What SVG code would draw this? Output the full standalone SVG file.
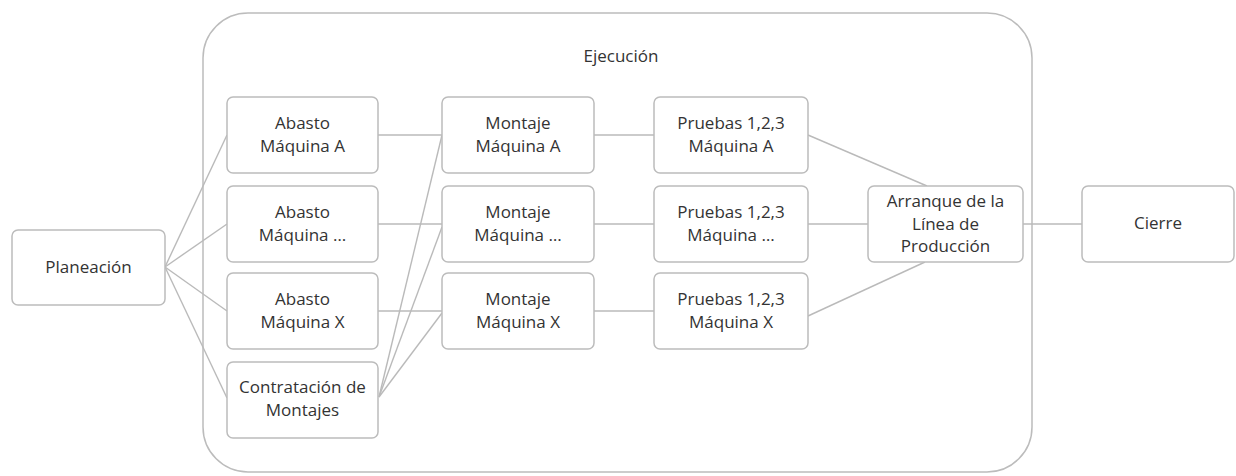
<svg xmlns="http://www.w3.org/2000/svg" width="1236" height="476" viewBox="0 0 1236 476">
<style>
.box{fill:#ffffff;stroke:#bcbcbc;stroke-width:1.5}
.cont{fill:none;stroke:#bcbcbc;stroke-width:1.5}
.ln{stroke:#bababa;stroke-width:1.4;fill:none}
text{font-family:"Open Sans","Liberation Sans",sans-serif;font-size:17px;fill:#333333;text-anchor:middle}
</style>
<rect width="1236" height="476" fill="#ffffff"/>
<g id="ejecucion">
<rect class="cont" x="203" y="13" width="829" height="459" rx="45"/>
<text x="621" y="62">Ejecución</text>
</g>
<g id="connectors">
<line class="ln" x1="165" y1="267" x2="227" y2="135"/>
<line class="ln" x1="165" y1="267" x2="227" y2="224"/>
<line class="ln" x1="165" y1="267" x2="227" y2="311"/>
<line class="ln" x1="165" y1="267" x2="227" y2="398"/>
<line class="ln" x1="378" y1="135" x2="442" y2="135"/>
<line class="ln" x1="378" y1="224" x2="442" y2="224"/>
<line class="ln" x1="378" y1="311" x2="442" y2="311"/>
<line class="ln" x1="379" y1="397" x2="442" y2="135"/>
<line class="ln" x1="379" y1="397" x2="442" y2="227"/>
<line class="ln" x1="379" y1="397" x2="442" y2="313"/>
<line class="ln" x1="594" y1="135" x2="654" y2="135"/>
<line class="ln" x1="594" y1="224" x2="654" y2="224"/>
<line class="ln" x1="594" y1="311" x2="654" y2="311"/>
<line class="ln" x1="808" y1="135" x2="927" y2="186"/>
<line class="ln" x1="808" y1="224" x2="868" y2="224"/>
<line class="ln" x1="808" y1="316" x2="925" y2="262"/>
<line class="ln" x1="1023" y1="224" x2="1082" y2="224"/>
</g>
<g id="planeacion">
<rect class="box" x="12" y="230" width="153" height="75" rx="6"/>
<text x="88.5" y="273">Planeación</text>
</g>
<g id="abasto-a">
<rect class="box" x="227" y="97" width="151" height="76" rx="6"/>
<text x="302.5" y="129">Abasto</text>
<text x="302.5" y="152">Máquina A</text>
</g>
<g id="abasto-n">
<rect class="box" x="227" y="186" width="151" height="76" rx="6"/>
<text x="302.5" y="218">Abasto</text>
<text x="302.5" y="241">Máquina …</text>
</g>
<g id="abasto-x">
<rect class="box" x="227" y="273" width="151" height="76" rx="6"/>
<text x="302.5" y="305">Abasto</text>
<text x="302.5" y="328">Máquina X</text>
</g>
<g id="contratacion">
<rect class="box" x="227" y="362" width="151" height="76" rx="6"/>
<text x="302.5" y="393">Contratación de</text>
<text x="302.5" y="416">Montajes</text>
</g>
<g id="montaje-a">
<rect class="box" x="442" y="97" width="152" height="76" rx="6"/>
<text x="518" y="129">Montaje</text>
<text x="518" y="152">Máquina A</text>
</g>
<g id="montaje-n">
<rect class="box" x="442" y="186" width="152" height="76" rx="6"/>
<text x="518" y="218">Montaje</text>
<text x="518" y="241">Máquina …</text>
</g>
<g id="montaje-x">
<rect class="box" x="442" y="273" width="152" height="76" rx="6"/>
<text x="518" y="305">Montaje</text>
<text x="518" y="328">Máquina X</text>
</g>
<g id="pruebas-a">
<rect class="box" x="654" y="97" width="154" height="76" rx="6"/>
<text x="731" y="129">Pruebas 1,2,3</text>
<text x="731" y="152">Máquina A</text>
</g>
<g id="pruebas-n">
<rect class="box" x="654" y="186" width="154" height="76" rx="6"/>
<text x="731" y="218">Pruebas 1,2,3</text>
<text x="731" y="241">Máquina …</text>
</g>
<g id="pruebas-x">
<rect class="box" x="654" y="273" width="154" height="76" rx="6"/>
<text x="731" y="305">Pruebas 1,2,3</text>
<text x="731" y="328">Máquina X</text>
</g>
<g id="arranque">
<rect class="box" x="868" y="186" width="155" height="76" rx="6"/>
<text x="945.5" y="207">Arranque de la</text>
<text x="945.5" y="230">Línea de</text>
<text x="945.5" y="252">Producción</text>
</g>
<g id="cierre">
<rect class="box" x="1082" y="186" width="152" height="76" rx="6"/>
<text x="1158" y="229">Cierre</text>
</g>
</svg>
